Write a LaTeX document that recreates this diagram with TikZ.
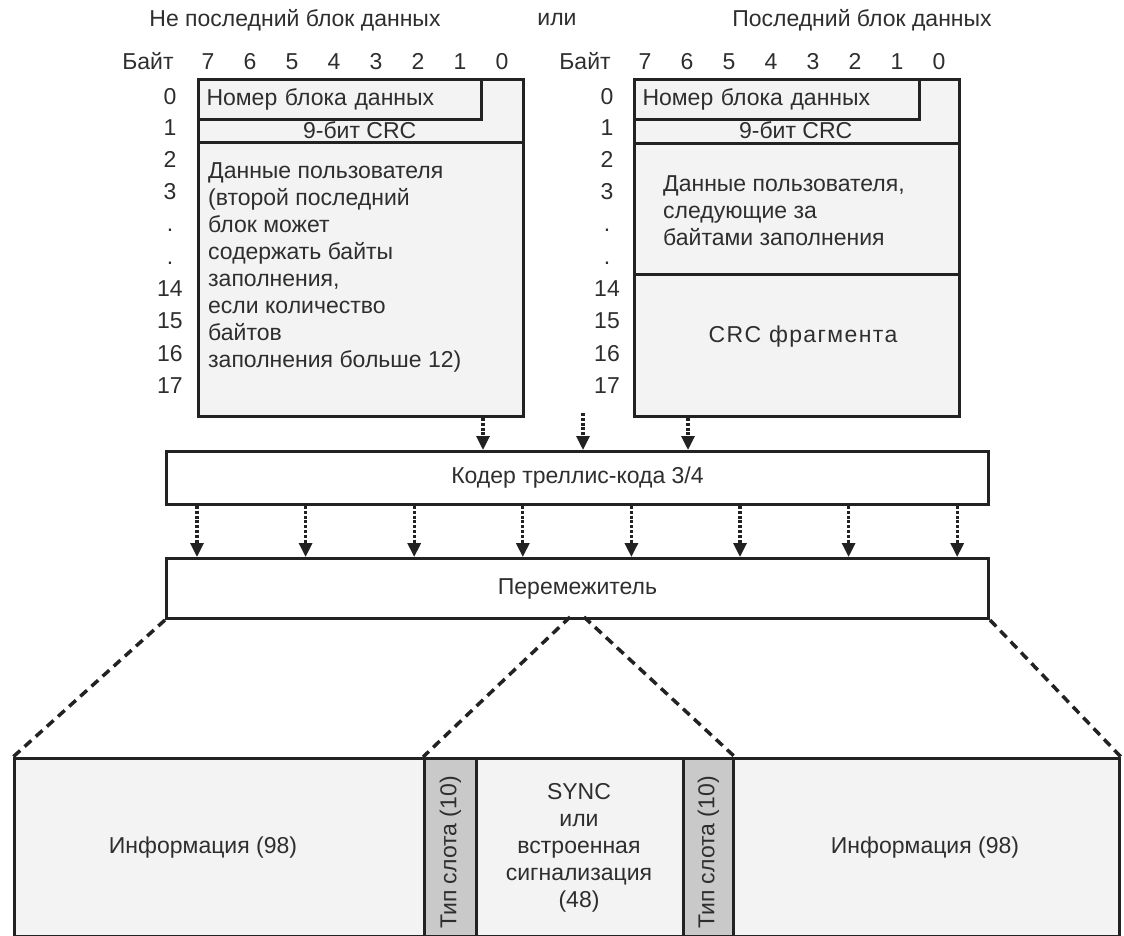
\documentclass[tikz,border=0pt]{standalone}
\usepackage{fontspec}
\setmainfont{Liberation Sans}
\usepackage{tikz}
\usetikzlibrary{positioning,arrows.meta,calc}
\definecolor{ink}{HTML}{222222}
\definecolor{txt}{HTML}{2E2E2E}
\definecolor{panel}{HTML}{F3F3F3}
\definecolor{slot}{HTML}{C9C9C9}

\begin{document}
\begin{tikzpicture}[
  x=1pt, y=-1pt,
  font=\fontsize{23}{27}\selectfont,
  text=txt,
  >={Triangle[width=13pt,length=14pt]},
  box/.style={draw=ink, line width=3pt, inner sep=0pt, anchor=north west},
  blk/.style={box, fill=panel, minimum width=325pt},
  unit/.style={box, fill=white, minimum width=822pt},
  lbl/.style={inner sep=0pt},
  num/.style={lbl, anchor=base},
  rowline/.style={draw=ink, line width=3pt},
  arr/.style={->, ink, line width=3.2pt, dash pattern=on 3pt off 1.8pt},
  fan/.style={ink, line width=3.5pt, dash pattern=on 9pt off 6pt},
]
\useasboundingbox (0,0) rectangle (1124,936);
% headers
\node[lbl] (hl) at (295,20) {Не последний блок данных};
\node[lbl] (hor) at (557,20) {или};
\node[lbl] (hr) at (862,20) {Последний блок данных};
% left block
\node[blk, minimum height=337pt] (lblk) at (197,78) {};
\node[blk, minimum width=283pt, minimum height=40pt, text width=267pt, align=left] (lnum) at (197,78) {Номер блока данных};
\node[lbl, minimum width=325pt, minimum height=24pt, anchor=north west] (lcrc) at (197,118) {9-бит CRC};
\draw[rowline] (lcrc.south west) -- (lcrc.south east);
\node[lbl, anchor=west, align=left] (ldat) at (208,267.5)
  {Данные пользователя\\(второй последний\\блок может\\содержать байты\\заполнения,\\если количество\\байтов\\заполнения больше 12)};
% right block
\node[blk, minimum height=337pt] (rblk) at (633,78) {};
\node[blk, minimum width=285pt, minimum height=40pt, text width=269pt, align=left] (rnum) at (633,78) {Номер блока данных};
\node[lbl, minimum width=325pt, minimum height=24pt, anchor=north west] (rcrc) at (633,118) {9-бит CRC};
\node[box, minimum width=325pt, minimum height=131pt] (rdat) at (633,142) {};
\node[lbl, anchor=west, align=left] (rdatt) at (663,211) {Данные пользователя,\\следующие за\\байтами заполнения};
\node[lbl, font=\fontsize{23}{27}\selectfont\addfontfeature{LetterSpace=6}] (rfcs) at (803,337) {CRC фрагмента};
% byte and bit numbers
\foreach \ox in {0,437} {
  \node[num] (byte-\ox) at (148+\ox,70) {Байт};
  \foreach \b [count=\i from 0] in {7,6,5,4,3,2,1,0}
    \node[num] (bit-\ox-\b) at (208+42*\i+\ox,70) {\b};
  \foreach \r/\ry [count=\j] in {0/105,1/136,2/168,3/200,./232,./264,14/296,15/328,16/361,17/393}
    \node[num] (row-\ox-\j) at (170+\ox,\ry) {\r};
}
% coder and interleaver
\node[unit, minimum height=53pt] (coder) at (165,450) {Кодер треллис-кода 3/4};
\node[unit, minimum height=60pt] (ilv) at (165,557) {Перемежитель};
\coordinate (kl) at (483,0);
\coordinate (kr) at (688,0);
\coordinate (kin) at (583,413);
\draw[arr] (lblk.south -| kl) -- (coder.north -| kl);
\draw[arr] (kin) -- (coder.north -| kin);
\draw[arr] (rblk.south -| kr) -- (coder.north -| kr);
\foreach \i in {0,...,7} {
  \coordinate (k\i) at (197+108.6*\i,0);
  \draw[arr] (coder.south -| k\i) -- (ilv.north -| k\i);
}
% burst
\node[box, fill=panel, minimum width=1105pt, minimum height=178pt] (frm) at (13,757) {};
\node[box, fill=slot, minimum width=52pt, minimum height=178pt] (slotL) at (423,757) {};
\node[box, fill=slot, minimum width=50pt, minimum height=178pt] (slotR) at (682,757) {};
\node[lbl, rotate=90] (slotLt) at ([yshift=-5pt]slotL.center) {Тип слота (10)};
\node[lbl, rotate=90] (slotRt) at ([yshift=-5pt]slotR.center) {Тип слота (10)};
\node[lbl] (infoL) at (203,848) {Информация (98)};
\node[lbl] (infoR) at (925,848) {Информация (98)};
\node[lbl, align=center] (sync) at (579,847.5) {SYNC\\или\\встроенная\\сигнализация\\(48)};
\coordinate (apL) at (570,617);
\coordinate (apR) at (584,617);
\draw[fan] (ilv.south west) -- (frm.north west);
\draw[fan] (apL) -- (slotL.north west);
\draw[fan] (apR) -- (slotR.north east);
\draw[fan] (ilv.south east) -- (frm.north east);
\end{tikzpicture}
\end{document}
